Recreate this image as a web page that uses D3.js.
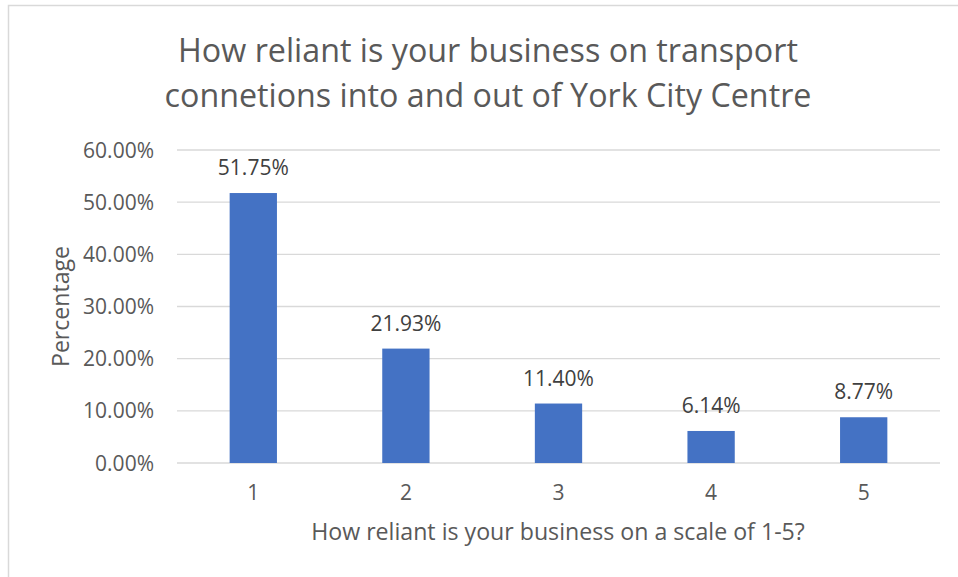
<!DOCTYPE html>
<html>
<head>
<meta charset="utf-8">
<script src="https://cdn.jsdelivr.net/npm/d3@7"></script>
<style>
  html, body { margin: 0; padding: 0; background: #fff; }
  svg { display: block; font-family: "Open Sans", sans-serif; }
</style>
</head>
<body>
<svg id="chart" width="958" height="577"></svg>
<script>
// data
const categories = ["1", "2", "3", "4", "5"];
const values = [51.75, 21.93, 11.40, 6.14, 8.77];
const yTicks = [0, 10, 20, 30, 40, 50, 60];
const titleLines = ["How reliant is your business on transport", "connetions into and out of York City Centre"];
const xTitle = "How reliant is your business on a scale of 1-5?";
const yTitle = "Percentage";

const svg = d3.select("#chart");

// plot area
let plotLeft = 177, plotRight = 940, plotTop = 150, plotBottom = 463;

// chart border
svg.append("rect")
    .attr("x", 8.5)
    .attr("y", 5.5)
    .attr("width", 1000)
    .attr("height", 1000)
    .attr("fill", "none")
    .attr("stroke", "#d9d9d9")
    .attr("stroke-width", 1.5);

let x = d3.scaleBand()
    .domain(categories)
    .range([plotLeft, plotRight])
    .paddingInner(0.69)
    .paddingOuter(0.345);

let y = d3.scaleLinear()
    .domain([0, 60])
    .range([plotBottom, plotTop]);

// make a text fit a given width by scaling the font size
function fitWidth(sel, w) {
    let fs = parseFloat(sel.attr("font-size"));
    let len = sel.node().getComputedTextLength();
    sel.attr("font-size", (fs * w / len).toFixed(2));
    return sel;
}

// gridlines
svg.append("g")
    .selectAll("line")
    .data(yTicks)
    .join("line")
    .attr("x1", plotLeft)
    .attr("x2", plotRight)
    .attr("y1", d => y(d))
    .attr("y2", d => y(d))
    .attr("stroke", "#d9d9d9")
    .attr("stroke-width", 1.3);

// y tick labels
svg.append("g")
    .selectAll("text")
    .data(yTicks)
    .join("text")
    .attr("x", 154)
    .attr("y", d => y(d))
    .attr("dy", "0.36em")
    .attr("text-anchor", "end")
    .attr("fill", "#595959")
    .attr("font-size", 21)
    .text(d => d3.format(".2f")(d) + "%");

// bars
svg.append("g")
    .selectAll("rect")
    .data(values)
    .join("rect")
    .attr("x", (d, i) => x(categories[i]))
    .attr("y", d => y(d))
    .attr("width", x.bandwidth())
    .attr("height", d => y(0) - y(d))
    .attr("fill", "#4472c4");

// data labels
svg.append("g")
    .selectAll("text")
    .data(values)
    .join("text")
    .attr("x", (d, i) => x(categories[i]) + x.bandwidth() / 2)
    .attr("y", d => y(d) - 18)
    .attr("text-anchor", "middle")
    .attr("fill", "#404040")
    .attr("font-size", 21)
    .text(d => d3.format(".2f")(d) + "%");

// x tick labels
svg.append("g")
    .selectAll("text")
    .data(categories)
    .join("text")
    .attr("x", d => x(d) + x.bandwidth() / 2)
    .attr("y", 500)
    .attr("text-anchor", "middle")
    .attr("fill", "#595959")
    .attr("font-size", 21)
    .text(d => d);

// axis titles
fitWidth(svg.append("text")
    .attr("x", 558)
    .attr("y", 540)
    .attr("text-anchor", "middle")
    .attr("fill", "#595959")
    .attr("font-size", 21)
    .text(xTitle), 494);

fitWidth(svg.append("text")
    .attr("transform", "translate(69," + ((plotTop + plotBottom) / 2) + ") rotate(-90)")
    .attr("text-anchor", "middle")
    .attr("fill", "#595959")
    .attr("font-size", 21)
    .text(yTitle), 121);

// title
let titleY = [62, 107];
let titleW = [620, 647];
titleLines.forEach((t, i) => {
    fitWidth(svg.append("text")
        .attr("x", 488)
        .attr("y", titleY[i])
        .attr("text-anchor", "middle")
        .attr("fill", "#595959")
        .attr("font-size", 30)
        .text(t), titleW[i]);
});
</script>
</body>
</html>
